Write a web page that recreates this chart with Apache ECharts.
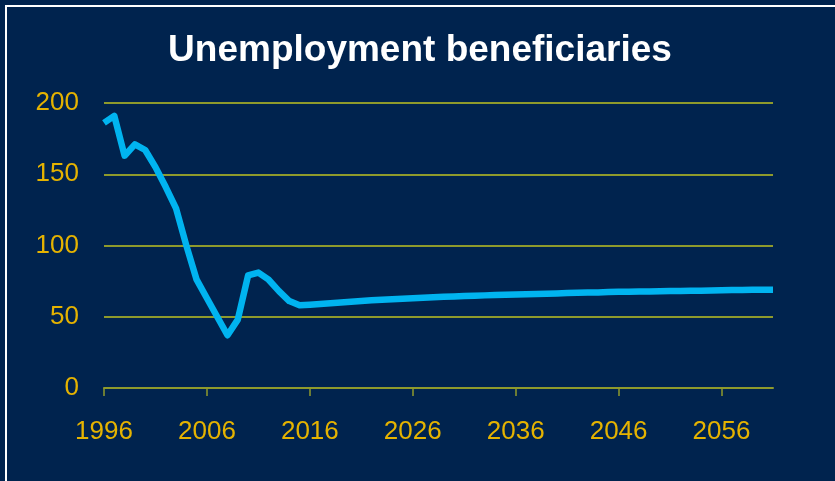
<!DOCTYPE html>
<html>
<head>
<meta charset="utf-8">
<script src="https://cdn.jsdelivr.net/npm/echarts@6/dist/echarts.min.js"></script>
<style>
  html, body { margin: 0; padding: 0; background: #00234E; }
  #chart { width: 835px; height: 481px; }
</style>
</head>
<body>
<div id="chart"></div>
<script>
// Years on the horizontal axis, 1996 to 2061
const years = [];
for (let y = 1996; y <= 2061; y++) years.push(String(y));

// Number of unemployment beneficiaries (thousands), one value per year
const beneficiaries = [
  186, 191, 163, 171, 167, 155, 141, 126, 100, 76,   // 1996-2005
  63, 50, 37, 48, 79, 81, 76, 68, 61, 58,            // 2006-2015
  58.5, 59, 59.5, 60, 60.5, 61, 61.5, 62, 62.3, 62.7, // 2016-2025
  63, 63.3, 63.6, 64, 64.2, 64.5, 64.8, 65, 65.2, 65.4, // 2026-2035
  65.6, 65.8, 66, 66.2, 66.4, 66.6, 66.8, 67, 67.1, 67.3, // 2036-2045
  67.5, 67.6, 67.7, 67.8, 67.9, 68, 68.1, 68.2, 68.3, 68.5, // 2046-2055
  68.6, 68.7, 68.8, 68.9, 69, 69                       // 2056-2061
];

const yTicks = { min: 0, max: 200, step: 50 };

const gold = '#E5B300';
const olive = '#8E9A2C';
const font = 'Liberation Sans, Arial, sans-serif';

const chart = echarts.init(document.getElementById('chart'));
chart.setOption({
  backgroundColor: '#00234E',
  animation: false,
  title: {
    text: 'Unemployment beneficiaries',
    left: 415,
    textAlign: 'center',
    top: 27,
    textStyle: {
      color: '#FFFFFF',
      fontFamily: font,
      fontWeight: 'bold',
      fontSize: 37
    }
  },
  graphic: [{
    type: 'rect',
    shape: { x: 6, y: 6, width: 900, height: 600 },
    style: { fill: 'none', stroke: '#FFFFFF', lineWidth: 2 },
    silent: true
  }],
  grid: { left: 104, right: 62, top: 103, bottom: 93 },
  xAxis: {
    type: 'category',
    data: years,
    boundaryGap: false,
    axisLine: { lineStyle: { color: olive, width: 2 } },
    axisTick: { interval: 9, length: 8, lineStyle: { color: olive, width: 1.5 } },
    axisLabel: {
      interval: 9,
      margin: 31,
      color: gold,
      fontFamily: font,
      fontSize: 26
    },
    splitLine: { show: false }
  },
  yAxis: {
    type: 'value',
    min: yTicks.min,
    max: yTicks.max,
    interval: yTicks.step,
    axisLine: { show: false },
    axisTick: { show: false },
    axisLabel: {
      margin: 25,
      color: gold,
      fontFamily: font,
      fontSize: 26
    },
    splitLine: { lineStyle: { color: olive, width: 2 } }
  },
  series: [{
    type: 'line',
    data: beneficiaries,
    showSymbol: false,
    lineStyle: { color: '#00B4F0', width: 6.5, join: 'round' }
  }]
});
</script>
</body>
</html>
